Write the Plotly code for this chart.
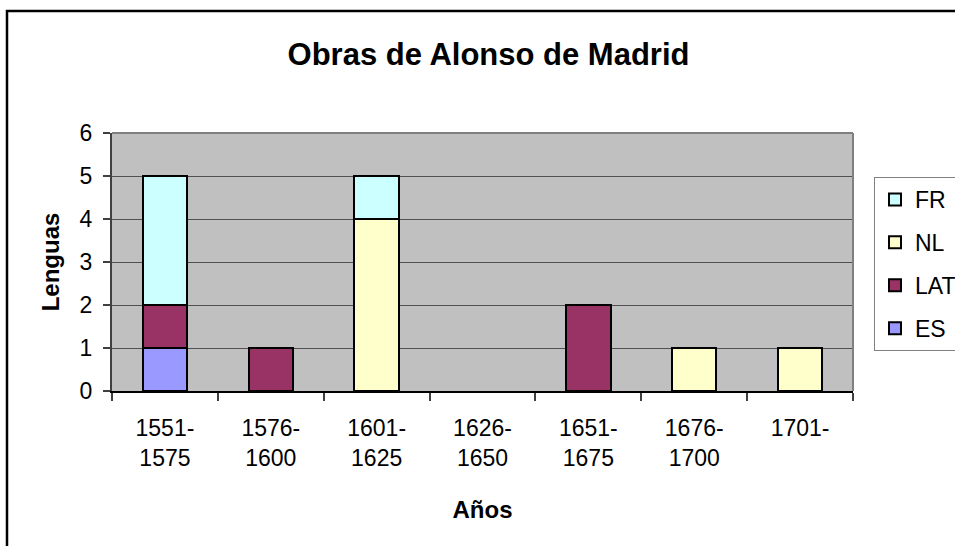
import plotly.graph_objects as go

categories = ["1551-<br>1575", "1576-<br>1600", "1601-<br>1625", "1626-<br>1650",
              "1651-<br>1675", "1676-<br>1700", "1701-"]
ES = [1, 0, 0, 0, 0, 0, 0]
LAT = [1, 1, 0, 0, 2, 0, 0]
NL = [0, 0, 4, 0, 0, 1, 1]
FR = [3, 0, 1, 0, 0, 0, 0]

series = [("ES", ES, "#9999FF", 4), ("LAT", LAT, "#993366", 3),
          ("NL", NL, "#FFFFCC", 2), ("FR", FR, "#CCFFFF", 1)]

FONT = "Arial, 'Liberation Sans', sans-serif"

fig = go.Figure()
for name, vals, color, rank in series:
    fig.add_trace(go.Bar(
        name=name, x=categories, y=[v if v else None for v in vals],
        legendgroup=name, legendrank=rank,
        marker=dict(color=color, line=dict(color="black", width=2)),
        width=0.42,
    ))

W, H = 955, 546
L, R, T, B = 112, 853, 133, 391
pw, ph = R - L, B - T

def px(x):
    return (x - L) / pw

def py(y):
    return (B - y) / ph

fig.update_layout(
    width=W, height=H,
    barmode="stack",
    paper_bgcolor="white",
    plot_bgcolor="#C0C0C0",
    margin=dict(l=L, r=W - R, t=T, b=H - B, autoexpand=False),
    font=dict(family=FONT, color="black", size=22),
    title=dict(text="Obras de Alonso de Madrid", x=px(488.5), xref="paper",
               xanchor="center", y=1 - 54 / H, yanchor="middle",
               font=dict(size=31, weight="bold", family=FONT)),
    showlegend=True,
    legend=dict(x=px(874), xanchor="left", y=py(177), yanchor="top",
                bgcolor="white", bordercolor="#808080", borderwidth=1,
                font=dict(size=23, family=FONT), traceorder="grouped",
                tracegroupgap=10),
)

fig.update_xaxes(
    type="category", tickson="boundaries", ticks="outside", ticklen=8,
    tickcolor="#404040", tickwidth=1.5,
    showline=True, linecolor="black", linewidth=2,
    showgrid=False, tickfont=dict(size=23), ticklabelstandoff=15,
    title=dict(text="Años", font=dict(size=24, weight="bold"), standoff=32),
)
fig.update_yaxes(
    range=[0, 6], dtick=1, ticks="outside", ticklen=7,
    tickcolor="#404040", tickwidth=1.5,
    showline=True, linecolor="#404040", linewidth=2,
    showgrid=True, gridcolor="#505050", gridwidth=1,
    zeroline=False, tickfont=dict(size=23), ticklabelstandoff=6,
    title=dict(text="Lenguas", font=dict(size=24, weight="bold"), standoff=13),
)

# plot-area frame (top & right) and outer chart border
fig.add_shape(type="line", xref="paper", yref="paper", x0=0, x1=1, y0=1, y1=1,
              line=dict(color="#808080", width=2))
fig.add_shape(type="line", xref="paper", yref="paper", x0=1, x1=1, y0=0, y1=1,
              line=dict(color="#808080", width=2))
fig.add_shape(type="rect", xref="paper", yref="paper",
              x0=px(7), x1=px(1000), y0=py(600), y1=py(11),
              line=dict(color="black", width=2.5))

fig.write_html("out.html",
               config={"displayModeBar": False},
               post_script="document.body.style.margin='0';"
                           "document.body.style.overflow='hidden';")
